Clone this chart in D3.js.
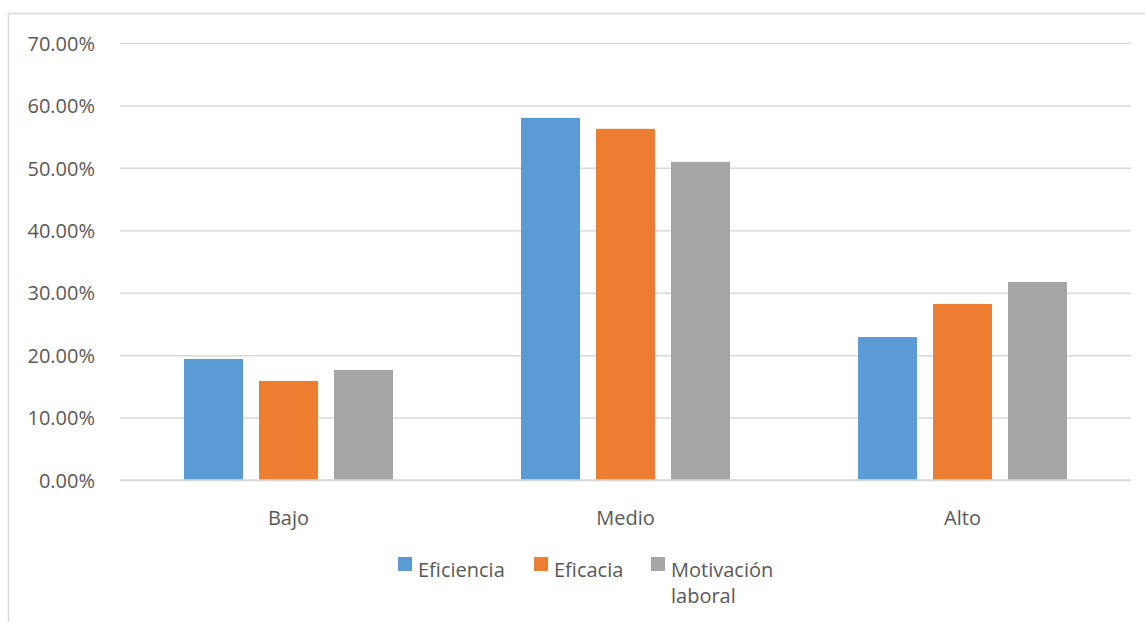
<!DOCTYPE html>
<html>
<head>
<meta charset="utf-8">
<script src="https://cdn.jsdelivr.net/npm/d3@7"></script>
<style>
  html, body { margin: 0; padding: 0; background: #ffffff; }
  svg { display: block; }
  text { font-family: "Open Sans", "Noto Sans", sans-serif; fill: #595959; }
</style>
</head>
<body>
<svg id="chart" width="1145" height="622"></svg>
<script>
// Categories and series
const categories = ["Bajo", "Medio", "Alto"];
const seriesNames = ["Eficiencia", "Eficacia", "Motivación laboral"];
const eficiencia = [0.1939, 0.5800, 0.2290];
const eficacia = [0.1587, 0.5625, 0.2820];
const motivacion = [0.1763, 0.5096, 0.3173];
const tickValues = [0, 0.1, 0.2, 0.3, 0.4, 0.5, 0.6, 0.7];
const colors = ["#5b9bd5", "#ed7d31", "#a5a5a5"];

const seriesValues = [eficiencia, eficacia, motivacion];
const rows = categories.map((c, i) => ({
  category: c,
  values: seriesNames.map((s, j) => ({ series: s, value: seriesValues[j][i], color: colors[j] }))
}));

const svg = d3.select("#chart");
const W = 1145, H = 622;

// Chart area frame
svg.append("rect")
  .attr("x", 8.5).attr("y", 13.5)
  .attr("width", W + 10).attr("height", H + 10)
  .attr("fill", "#ffffff")
  .attr("stroke", "#d9d9d9").attr("stroke-width", 1.5);

const plot = { left: 120, right: 1131, top: 43, bottom: 480 };

const y = d3.scaleLinear().domain([0, 0.7]).range([plot.bottom, plot.top]);
const x0 = d3.scaleBand().domain(categories).range([plot.left, plot.right]).paddingInner(0).paddingOuter(0);
const x1 = d3.scaleBand().domain(seriesNames).range([0, x0.bandwidth()])
  .paddingInner(16 / 75).paddingOuter(0.8533);

// Gridlines
const yAxis = d3.axisLeft(y).tickValues(tickValues)
  .tickSize(-(plot.right - plot.left))
  .tickFormat(d => d3.format(".2%")(d));
const gy = svg.append("g").attr("transform", `translate(${plot.left},0)`).call(yAxis);
gy.select(".domain").remove();
gy.selectAll(".tick line").attr("stroke", "#d9d9d9").attr("stroke-width", 1.5);
gy.selectAll(".tick text")
  .attr("x", -25)
  .attr("dy", "0.36em")
  .style("font-size", "20px")
  .attr("fill", "#595959");

// Bars
const groups = svg.append("g").selectAll("g")
  .data(rows).join("g")
  .attr("transform", d => `translate(${x0(d.category)},0)`);
groups.selectAll("rect")
  .data(d => d.values).join("rect")
  .attr("x", d => x1(d.series))
  .attr("width", x1.bandwidth())
  .attr("y", d => y(d.value))
  .attr("height", d => y(0) - y(d.value))
  .attr("fill", d => d.color);

// Category axis labels
const xAxis = d3.axisBottom(x0).tickSize(0).tickPadding(0);
const gx = svg.append("g").attr("transform", `translate(0,${plot.bottom})`).call(xAxis);
gx.select(".domain").remove();
gx.selectAll(".tick text")
  .attr("y", 45)
  .attr("dy", 0)
  .style("font-size", "20px")
  .attr("fill", "#595959");

// Baseline drawn over bars
svg.append("line")
  .attr("x1", plot.left).attr("x2", plot.right)
  .attr("y1", y(0)).attr("y2", y(0))
  .attr("stroke", "#d9d9d9").attr("stroke-width", 1.5);

// Legend
const legendX = [398, 534, 651];
const legendLines = [["Eficiencia"], ["Eficacia"], ["Motivación", "laboral"]];
const legend = svg.append("g").selectAll("g")
  .data(seriesNames).join("g")
  .attr("transform", (d, i) => `translate(${legendX[i]},557)`);
legend.append("rect")
  .attr("width", 14).attr("height", 14)
  .attr("fill", (d, i) => colors[i]);
legend.append("text")
  .attr("x", 20).attr("y", 20)
  .style("font-size", "20px")
  .selectAll("tspan")
  .data((d, i) => legendLines[i]).join("tspan")
  .attr("x", 20)
  .attr("dy", (d, k) => k === 0 ? 0 : 26)
  .text(d => d);
</script>
</body>
</html>
